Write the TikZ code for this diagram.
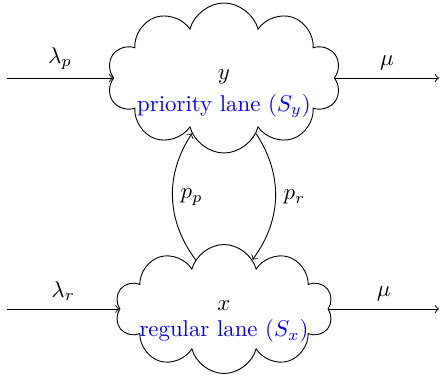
\documentclass[tikz,border=0pt]{standalone}
\usetikzlibrary{shapes.symbols}
\begin{document}
\begin{tikzpicture}[x=0.438pt,y=-0.438pt,>=to,
  lane/.style={cloud, cloud puffs=10, draw, cloud ignores aspect, inner sep=0pt},
  lanelabel/.style={text=blue}]
\useasboundingbox (0,0) rectangle (440,379);
\node[lane, minimum width=102.5pt, minimum height=65.7pt] (top) at (224,78) {};
\node[lane, minimum width=95.4pt, minimum height=56.5pt] (bot) at (224,309) {};
\node (ty) at (224,77) {$y$};
\node[lanelabel] (tl) at (224,106) {priority lane ($S_y$)};
\node (bx) at (224,306) {$x$};
\node[lanelabel] (bl) at (224,331) {regular lane ($S_x$)};
\coordinate (inl) at (7,0);
\coordinate (outr) at (439,0);
\draw[->] (inl |- top.west) -- (top.west) node[midway, above] {$\lambda_p$};
\draw[->] (top.east) -- (outr |- top.east) node[midway, above] {$\mu$};
\draw[->] (inl |- bot.west) -- (bot.west) node[midway, above] {$\lambda_r$};
\draw[->] (bot.east) -- (outr |- bot.east) node[midway, above] {$\mu$};
\draw[->] (bot.120) to[bend left=35] node[right] {$p_p$} (top.240);
\draw[->] (top.300) to[bend left=35] node[right] {$p_r$} (bot.60);
\end{tikzpicture}
\end{document}
